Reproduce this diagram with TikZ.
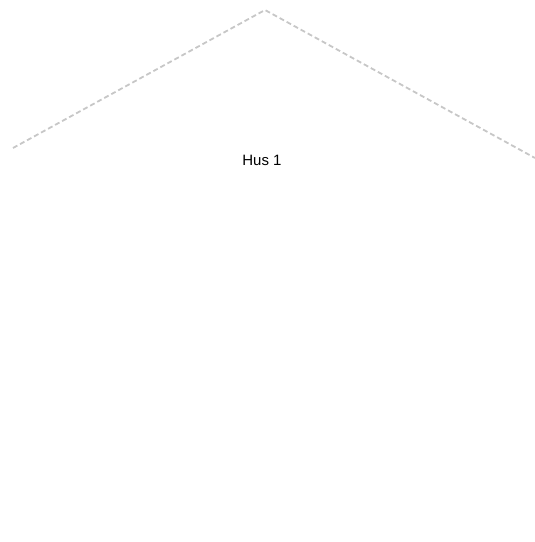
\documentclass[tikz,border=0pt]{standalone}
\usepackage{fontspec}
\setmainfont{Liberation Sans}
\usetikzlibrary{positioning}

\begin{document}
\begin{tikzpicture}[x=1pt, y=1pt]
		\tikzstyle{roof}=[draw=black!22, line width=1.8pt, dash pattern=on 5pt off 3pt]
		\tikzstyle{every node}=[font=\fontsize{15}{18}\selectfont]

    % Frame
		\useasboundingbox (0,0) rectangle (535,542);

    % Roof points
		\coordinate (eaveL) at (13,394);
		\coordinate (ridge) at (265,532);
		\coordinate (eaveR) at (535,384);

    % Roof
		\draw[roof] (eaveL) -- (ridge) -- (eaveR);

    % Label
		\node(hus) at (262,382){Hus 1};

  \end{tikzpicture}
\end{document}
